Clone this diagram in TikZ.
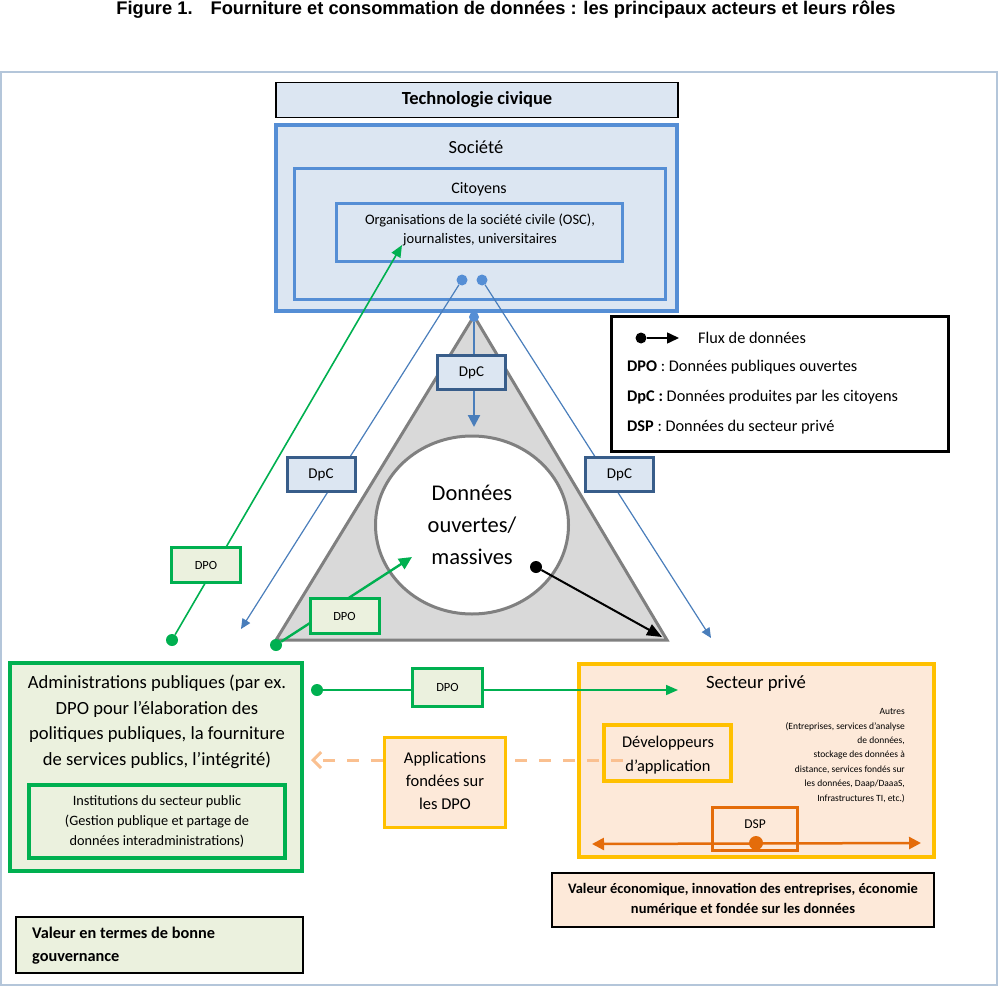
\documentclass[tikz,border=0pt]{standalone}
\usepackage{fontspec}
\setmainfont{Carlito}
\newfontfamily\titlefont{Liberation Sans}
\usetikzlibrary{arrows.meta,shapes.geometric}
\definecolor{civfill}{HTML}{DCE6F2}
\definecolor{socline}{HTML}{558ED5}
\definecolor{dpcline}{HTML}{385D8A}
\definecolor{flowblue}{HTML}{4A7EBB}
\definecolor{govgreen}{HTML}{00B050}
\definecolor{govfill}{HTML}{EBF1DE}
\definecolor{privfill}{HTML}{FDE9D9}
\definecolor{privline}{HTML}{FFC000}
\definecolor{dspline}{HTML}{E46C0A}
\definecolor{appdash}{HTML}{FAC090}
\definecolor{trifill}{HTML}{D9D9D9}
\definecolor{trigray}{HTML}{808080}
\definecolor{frameline}{HTML}{B4C6DA}
\newcommand{\sz}[2]{\fontsize{#1}{#2}\selectfont}
\tikzset{
  plainbox/.style={draw, rectangle, inner sep=0pt},
  socbox/.style={plainbox, draw=socline, fill=civfill, line width=3.5pt},
  dpcbox/.style={plainbox, draw=dpcline, fill=civfill, line width=3pt,
    minimum width=68pt, minimum height=34pt, font=\sz{15}{17}},
  dpobox/.style={plainbox, draw=govgreen, fill=govfill, line width=3pt,
    minimum width=69pt, minimum height=35pt, font=\sz{12.5}{14}},
  govbox/.style={plainbox, draw=govgreen, fill=govfill, line width=3.5pt},
  privbox/.style={plainbox, draw=privline, fill=privfill, line width=3.5pt},
  txt/.style={inner sep=0pt, align=center},
  datadot/.style={circle, fill, inner sep=0pt, minimum size=11pt},
  blueflow/.style={draw=flowblue, line width=1.2pt, -{Triangle[length=10pt,width=9pt]}},
  greenflow/.style={draw=govgreen, line width=1.6pt, -{Triangle[length=12pt,width=10pt]}},
}
\begin{document}
\begin{tikzpicture}[x=1pt,y=-1pt]
    \useasboundingbox (0,0) rectangle (1000,987);
    \node[txt, font=\titlefont\bfseries\sz{18.3}{19}] (title) at (506,10)
        {Figure 1.\hspace{18pt}Fourniture et consommation de données : les principaux acteurs et leurs rôles};
    \draw[draw=frameline, line width=1.2pt] (1,72) rectangle (997,985);
    % société civile
    \node[plainbox, fill=civfill, line width=1.3pt, minimum width=402pt, minimum height=35pt,
        font=\bfseries\sz{18.5}{20}] (tech) at (477,100) {Technologie civique};
    \node[socbox, minimum width=401pt, minimum height=186pt] (soc) at (476.5,218) {};
    \node[txt, font=\sz{18.5}{20}] (soclbl) at (476,147) {Société};
    \node[socbox, line width=3pt, minimum width=371pt, minimum height=130pt] (cit) at (479.5,234) {};
    \node[txt, font=\sz{16}{18}] (citlbl) at (479,189) {Citoyens};
    \node[socbox, line width=3pt, minimum width=286pt, minimum height=58pt] (osc) at (479.5,232.5) {};
    \node[txt, font=\sz{14.5}{19}] (osclbl) at (480,230) {Organisations de la société civile (OSC),\\journalistes, universitaires};
    \node[datadot, fill=socline] (cdl) at (462,280) {};
    \node[datadot, fill=socline] (cdr) at (482,280) {};
    % données ouvertes
    \coordinate (apex) at (474,316);
    \coordinate (baseL) at (276,640);
    \coordinate (baseR) at (667,640);
    \filldraw[fill=trifill, draw=trigray, line width=3pt] (apex) -- (baseL) -- (baseR) -- cycle;
    \node[ellipse, draw=trigray, fill=white, line width=3pt, inner sep=0pt, minimum width=193pt,
        minimum height=178pt, align=center, font=\sz{22.5}{32}] (core) at (472,525) {Données\\ouvertes/\\massives};
    \node[datadot, fill=socline, minimum size=10pt] (topdot) at (474,317) {};
    \coordinate (dpctip) at (474,427);
    \draw[blueflow, line width=2.2pt, -{Triangle[length=12pt,width=12pt]}] (topdot) -- (dpctip);
    \node[dpcbox] (dpct) at (471.5,372.5) {DpC};
    \coordinate (dpcltip) at (241,629);
    \coordinate (dpcrtip) at (711,638);
    \draw[blueflow] (cdl) -- (dpcltip);
    \draw[blueflow] (cdr) -- (dpcrtip);
    \node[dpcbox] (dpcl) at (321,474.5) {DpC};
    \node[dpcbox] (dpcr) at (619.5,474.5) {DpC};
    \node[datadot, fill=govgreen, minimum size=12pt] (gdot1) at (172,640) {};
    \coordinate (osctip) at (402,245);
    \draw[greenflow] (gdot1) -- (osctip);
    \node[dpobox] (dpo1) at (206,565) {DPO};
    \node[datadot, fill=govgreen, minimum size=12pt] (gdot2) at (276,645) {};
    \coordinate (coretip) at (412,557);
    \draw[greenflow, line width=2.4pt, -{Triangle[length=13pt,width=12pt]}] (gdot2) -- (coretip);
    \node[dpobox] (dpo2) at (344.5,616) {DPO};
    \node[datadot, fill=black, minimum size=12pt] (bdot) at (536,567) {};
    \coordinate (privtip) at (662,637);
    \draw[line width=2pt, -{Triangle[length=15pt,width=12pt]}] (bdot) -- (privtip);
    % légende
    \node[plainbox, line width=3.5pt, minimum width=337pt, minimum height=135pt] (legend) at (780,384) {};
    \node[datadot, fill=black] (ldot) at (641,338) {};
    \coordinate (ltip) at (679,338);
    \draw[line width=1.5pt, -{Triangle[length=12pt,width=11pt]}] (ldot) -- (ltip);
    \node[txt, anchor=west, font=\sz{16.3}{18}] (lflux) at (698,338) {Flux de données};
    \node[txt, anchor=west, font=\sz{16.3}{18}] (ldpo) at (627,367) {\textbf{DPO} : Données publiques ouvertes};
    \node[txt, anchor=west, font=\sz{16.3}{18}] (ldpc) at (627,397) {\textbf{DpC :} Données produites par les citoyens};
    \node[txt, anchor=west, font=\sz{16.3}{18}] (ldsp) at (627,427) {\textbf{DSP} : Données du secteur privé};
    % administrations publiques
    \node[govbox, minimum width=292pt, minimum height=208pt] (admin) at (156,767) {};
    \node[txt, font=\sz{18.6}{25.5}] (adminlbl) at (157,722)
        {Administrations publiques (par ex.\\DPO pour l’élaboration des\\politiques publiques, la fourniture\\de services publics, l’intégrité)};
    \node[govbox, minimum width=256pt, minimum height=73pt] (inst) at (157,821.5) {};
    \node[txt, font=\sz{14.3}{20}] (instlbl) at (157,822)
        {Institutions du secteur public\\(Gestion publique et partage de\\données interadministrations)};
    % secteur privé
    \node[privbox, minimum width=355pt, minimum height=193pt] (priv) at (756.5,760.5) {};
    \node[txt, font=\sz{18.7}{20}] (privlbl) at (756,684) {Secteur privé};
    \node[privbox, minimum width=127pt, minimum height=56pt] (dev) at (667.5,753) {};
    \node[txt, font=\sz{16.4}{24}] (devlbl) at (668,755) {Développeurs\\d’application};
    \node[txt, align=right, anchor=east, font=\sz{9.5}{14.4}] (autres) at (905,755.5)
        {Autres\\(Entreprises, services d’analyse\\de données,\\stockage des données à\\distance, services fondés sur\\les données, Daap/DaaaS,\\Infrastructures TI, etc.)};
    \node[datadot, fill=govgreen, minimum size=12pt] (gdot3) at (317,690) {};
    \coordinate (privin) at (678,690);
    \draw[greenflow] (gdot3) -- (privin);
    \node[dpobox, minimum width=70pt, minimum height=38pt] (dpo3) at (447.5,687.5) {DPO};
    \coordinate (dashstart) at (623,760);
    \coordinate (dashtip) at (311,760);
    \draw[draw=appdash, line width=3pt, dash pattern=on 12pt off 12pt,
        -{Straight Barb[length=8pt,width=16pt]}] (dashstart) -- (dashtip);
    \node[privbox, minimum width=121pt, minimum height=90pt] (apps) at (445,782.5) {};
    \node[txt, font=\sz{16.5}{23}] (appslbl) at (445,781) {Applications\\fondées sur\\les DPO};
    \node[plainbox, draw=dspline, line width=3.5pt, minimum width=85pt, minimum height=43pt] (dsp) at (755,829) {};
    \node[txt, font=\sz{13.5}{15}] (dsplbl) at (755,824) {DSP};
    \coordinate (dspl) at (592,844);
    \coordinate (dspr) at (921,843);
    \draw[draw=dspline, line width=2.5pt, {Triangle[length=12pt,width=12pt]}-{Triangle[length=12pt,width=12pt]}] (dspl) -- (dspr);
    \node[datadot, fill=dspline, minimum size=14pt] (dspdot) at (756,843) {};
    % valeurs
    \node[plainbox, fill=privfill, line width=1.5pt, minimum width=382pt, minimum height=54pt, align=center,
        font=\bfseries\sz{14.5}{20}] (ecoval) at (743,900)
        {Valeur économique, innovation des entreprises, économie\\numérique et fondée sur les données};
    \node[plainbox, fill=govfill, line width=1.5pt, minimum width=287pt, minimum height=56pt] (govval) at (159.5,945) {};
    \node[txt, align=left, anchor=west, font=\bfseries\sz{16.3}{23}] (govvallbl) at (32,946)
        {Valeur en termes de bonne\\gouvernance};
\end{tikzpicture}
\end{document}
